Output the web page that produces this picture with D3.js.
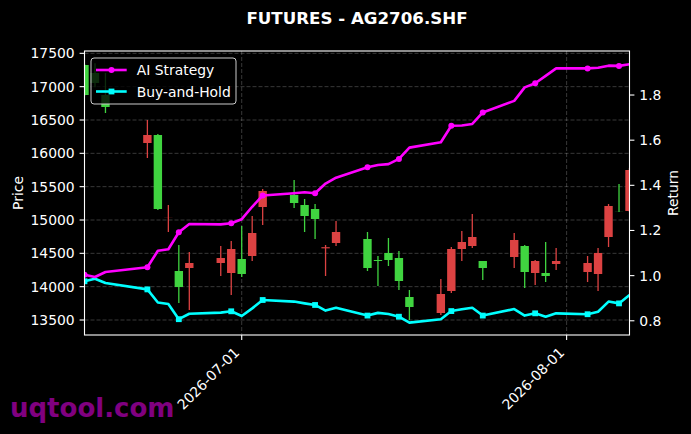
<!DOCTYPE html>
<html>
<head>
<meta charset="utf-8">
<script src="https://cdn.jsdelivr.net/npm/d3@7"></script>
<style>
  html, body { margin: 0; padding: 0; background: #000; }
  svg { display: block; }
  text { font-family: "DejaVu Sans", sans-serif; fill: #fff; }
</style>
</head>
<body>
<svg id="chart" width="691" height="434"></svg>
<script>
const dates = ["2026-06-16","2026-06-17","2026-06-18","2026-06-22","2026-06-23","2026-06-24","2026-06-25","2026-06-26","2026-06-29","2026-06-30",
  "2026-07-01","2026-07-02","2026-07-03","2026-07-06","2026-07-07","2026-07-08","2026-07-09","2026-07-10","2026-07-13","2026-07-14",
  "2026-07-15","2026-07-16","2026-07-17","2026-07-20","2026-07-21","2026-07-22","2026-07-23","2026-07-24","2026-07-27","2026-07-28",
  "2026-07-29","2026-07-30","2026-07-31","2026-08-03","2026-08-04","2026-08-05","2026-08-06","2026-08-07"];
const open  = [17325,17205,16875,16155,16275,15030,14235,14280,14355,14205,14415,14460,15195,15375,15225,15165,14575,14655,14715,14400,14505,14430,13845,13605,13935,14565,14610,14385,14445,14610,14205,14205,14340,14220,14190,14745,15132,15135];
const close = [16875,17055,16695,16275,15165,15032,13995,14355,14430,14565,14190,14805,15435,15255,15060,15015,14592,14820,14280,14385,14400,14085,13695,13890,14565,14670,14745,14280,14700,14220,14385,14160,14385,14355,14505,15210,15130,15750];
const high  = [17340,17350,17205,16500,16290,15225,14625,14520,14610,14685,14910,15060,15465,15600,15315,15240,14625,14985,14820,14460,14730,14535,13950,14115,14595,14835,15090,14385,14805,14625,14400,14670,14580,14460,14580,15240,15540,15780];
const low   = [16860,16990,16605,15930,15150,14820,13755,13650,14160,13875,14145,14385,14925,15180,14820,14715,14160,14610,14235,14010,14310,13950,13500,13575,13905,14385,14580,14100,14280,13980,14025,14070,14250,14070,13935,14595,15120,15120];
const aiStrategy = [1.004,0.994,1.016,1.037,1.110,1.117,1.192,1.229,1.227,1.232,1.250,1.305,1.355,1.365,1.369,1.365,1.408,1.434,1.480,1.490,1.494,1.517,1.567,1.591,1.664,1.665,1.672,1.723,1.774,1.834,1.852,1.885,1.918,1.918,1.921,1.930,1.929,1.936];
const buyHold = [0.975,0.986,0.967,0.939,0.881,0.874,0.807,0.831,0.836,0.842,0.821,0.855,0.892,0.885,0.877,0.870,0.845,0.858,0.823,0.835,0.830,0.818,0.792,0.807,0.843,0.851,0.858,0.823,0.852,0.823,0.833,0.818,0.833,0.829,0.840,0.885,0.877,0.914];
const priceTicks = [13500,14000,14500,15000,15500,16000,16500,17000,17500];
const returnTicks = [0.8,1.0,1.2,1.4,1.6,1.8];
const dateTicks = ["2026-07-01","2026-08-01"];
const priceLimits = [13275, 17535];
const returnLimits = [0.737, 1.995];
const seriesNames = ["AI Strategy","Buy-and-Hold"];
const titleText = "FUTURES - AG2706.SHF";

const parse = d3.timeParse("%Y-%m-%d");
const dts = dates.map(parse);
const data = dts.map((d,i)=>({d, o:open[i], c:close[i], h:high[i], l:low[i], ai:aiStrategy[i], bh:buyHold[i], i}));

const svg = d3.select("#chart");
const W = 691, H = 434;
const L = 84.5, R = 629.5, T = 51, B = 335;
svg.append("rect").attr("width",W).attr("height",H).attr("fill","#000");

const x = d3.scaleTime().domain([dts[0], dts[dts.length-1]]).range([L,R]);
const y = d3.scaleLinear().domain(priceLimits).range([B,T]);
const y2 = d3.scaleLinear().domain(returnLimits).range([B,T]);

svg.append("defs").append("clipPath").attr("id","clip")
  .append("rect").attr("x",L).attr("y",T).attr("width",R-L).attr("height",B-T);

// grid
const grid = svg.append("g").attr("stroke","#ffffff").attr("stroke-opacity",0.28).attr("stroke-width",0.8).attr("stroke-dasharray","4,2");
grid.selectAll(".gy").data(priceTicks).join("line")
  .attr("x1",L).attr("x2",R).attr("y1",d=>y(d)).attr("y2",d=>y(d));
grid.selectAll(".gx").data(dateTicks.map(parse)).join("line")
  .attr("x1",d=>x(d)).attr("x2",d=>x(d)).attr("y1",T).attr("y2",B);

// candles
const pxDay = x(d3.timeDay.offset(dts[0],1)) - x(dts[0]);
const bw = pxDay*0.8;
const up = "#dc4242", down = "#40d440";
const cg = svg.append("g").attr("clip-path","url(#clip)");
cg.selectAll(".wick").data(data).join("line")
  .attr("x1",d=>x(d.d)).attr("x2",d=>x(d.d))
  .attr("y1",d=>y(d.h)).attr("y2",d=>y(d.l))
  .attr("stroke",d=>d.c>=d.o?up:down).attr("stroke-width",1.3);
cg.selectAll(".body").data(data).join("rect")
  .attr("x",d=>x(d.d)-bw/2).attr("width",bw)
  .attr("y",d=>y(Math.max(d.o,d.c)))
  .attr("height",d=>Math.abs(y(d.o)-y(d.c)))
  .attr("fill",d=>d.c>=d.o?up:down);

// lines
const lg = svg.append("g").attr("clip-path","url(#clip)");
const lineAI = d3.line().x(d=>x(d.d)).y(d=>y2(d.ai));
const lineBH = d3.line().x(d=>x(d.d)).y(d=>y2(d.bh));
lg.append("path").datum(data).attr("d",lineBH).attr("fill","none").attr("stroke","#00ffff").attr("stroke-width",2.6).attr("stroke-linejoin","round");
lg.append("path").datum(data).attr("d",lineAI).attr("fill","none").attr("stroke","#ff00ff").attr("stroke-width",2.6).attr("stroke-linejoin","round");
const marked = data.filter(d=>d.i%3===0);
lg.selectAll(".mbh").data(marked).join("rect")
  .attr("x",d=>x(d.d)-2.9).attr("y",d=>y2(d.bh)-2.9).attr("width",5.8).attr("height",5.8).attr("fill","#00ffff");
lg.selectAll(".mai").data(marked).join("circle")
  .attr("cx",d=>x(d.d)).attr("cy",d=>y2(d.ai)).attr("r",3).attr("fill","#ff00ff");

// frame
svg.append("rect").attr("x",L).attr("y",T).attr("width",R-L).attr("height",B-T)
  .attr("fill","none").attr("stroke","#fff").attr("stroke-width",1.1);

// left axis
const la = svg.append("g");
la.selectAll("line").data(priceTicks).join("line")
  .attr("x1",L-4.9).attr("x2",L).attr("y1",d=>y(d)).attr("y2",d=>y(d)).attr("stroke","#fff").attr("stroke-width",1.1);
la.selectAll("text").data(priceTicks).join("text")
  .attr("x",L-9.8).attr("y",d=>y(d)).attr("text-anchor","end").attr("dominant-baseline","central")
  .style("font-size","13.9px").text(d=>d);
// right axis
const ra = svg.append("g");
ra.selectAll("line").data(returnTicks).join("line")
  .attr("x1",R).attr("x2",R+4.9).attr("y1",d=>y2(d)).attr("y2",d=>y2(d)).attr("stroke","#fff").attr("stroke-width",1.1);
ra.selectAll("text").data(returnTicks).join("text")
  .attr("x",R+9.8).attr("y",d=>y2(d)).attr("text-anchor","start").attr("dominant-baseline","central")
  .style("font-size","13.9px").text(d=>d3.format(".1f")(d));
// bottom axis
const ba = svg.append("g");
ba.selectAll("line").data(dateTicks.map(parse)).join("line")
  .attr("x1",d=>x(d)).attr("x2",d=>x(d)).attr("y1",B).attr("y2",B+4.9).attr("stroke","#fff").attr("stroke-width",1.1);
ba.selectAll("text").data(dateTicks).join("text")
  .attr("transform",d=>`translate(${x(parse(d))-5},${B+15}) rotate(-45)`)
  .attr("text-anchor","end").attr("dominant-baseline","central")
  .style("font-size","13.9px").text(d=>d);

// axis labels
svg.append("text").attr("transform",`translate(18,${(T+B)/2}) rotate(-90)`)
  .attr("text-anchor","middle").attr("dominant-baseline","central").style("font-size","13.9px").text("Price");
svg.append("text").attr("transform",`translate(673,${(T+B)/2}) rotate(-90)`)
  .attr("text-anchor","middle").attr("dominant-baseline","central").style("font-size","13.9px").text("Return");

// title
svg.append("text").attr("x",(L+R)/2).attr("y",24).attr("text-anchor","middle")
  .style("font-size","16.67px").style("font-weight","bold").text(titleText);

// legend
const leg = svg.append("g");
leg.append("rect").attr("x",91).attr("y",58).attr("width",145).attr("height",46).attr("rx",3)
  .attr("fill","#000").attr("fill-opacity",0.8).attr("stroke","#cccccc").attr("stroke-width",1);
const legRows = [{name:seriesNames[0], color:"#ff00ff", shape:"circle", yy:70},{name:seriesNames[1], color:"#00ffff", shape:"square", yy:91.5}];
legRows.forEach(r=>{
  leg.append("line").attr("x1",96).attr("x2",126.7).attr("y1",r.yy).attr("y2",r.yy).attr("stroke",r.color).attr("stroke-width",2.6);
  if (r.shape==="circle") leg.append("circle").attr("cx",111.5).attr("cy",r.yy).attr("r",3).attr("fill",r.color);
  else leg.append("rect").attr("x",111.5-2.9).attr("y",r.yy-2.9).attr("width",5.8).attr("height",5.8).attr("fill",r.color);
  leg.append("text").attr("x",136.7).attr("y",r.yy).attr("dominant-baseline","central").style("font-size","13.9px").text(r.name);
});

// watermark
svg.append("text").attr("x",10).attr("y",417).style("font-size","26px").style("font-weight","bold")
  .style("fill","#800080").text("uqtool.com");
</script>
</body>
</html>
